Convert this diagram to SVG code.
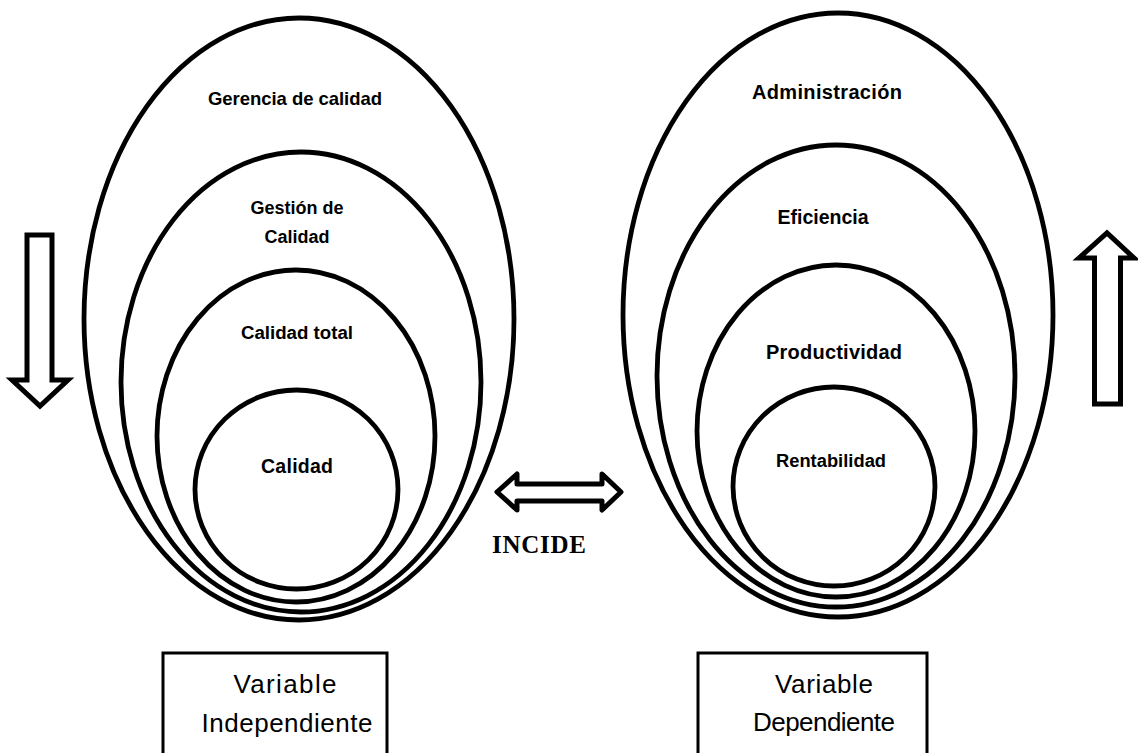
<svg xmlns="http://www.w3.org/2000/svg" width="1138" height="753" viewBox="0 0 1138 753">
<style>
.e{fill:none;stroke:#000;stroke-width:4.8}
.lbl{font-family:"Liberation Sans",Arial,sans-serif;font-weight:bold;fill:#000;text-anchor:middle}
.box{fill:#fff;stroke:#000;stroke-width:3}
.btxt{font-family:"Liberation Sans",Arial,sans-serif;font-size:26px;fill:#000;text-anchor:middle}
.arr{fill:#fff;stroke:#000;stroke-width:5}
</style>
<rect width="1138" height="753" fill="#fff"/>
<g id="left-group">
  <g id="gerencia"><ellipse class="e" cx="299" cy="319" rx="215" ry="301"/><text class="lbl" x="295" y="105" font-size="18.5" textLength="174">Gerencia de calidad</text></g>
  <g id="gestion"><ellipse class="e" cx="301" cy="382" rx="180" ry="230"/><text class="lbl" x="297" y="214" font-size="18" textLength="93">Gestión de</text><text class="lbl" x="297" y="243" font-size="18" textLength="65">Calidad</text></g>
  <g id="calidad-total"><ellipse class="e" cx="296" cy="436" rx="139" ry="166"/><text class="lbl" x="297" y="339" font-size="18.7" textLength="112">Calidad total</text></g>
  <g id="calidad"><ellipse class="e" cx="296.5" cy="489.5" rx="101.5" ry="99.5"/><text class="lbl" x="297" y="473" font-size="19.5" textLength="72">Calidad</text></g>
</g>
<g id="right-group">
  <g id="administracion"><ellipse class="e" cx="838" cy="315" rx="215" ry="302"/><text class="lbl" x="827" y="99" font-size="20" textLength="150">Administración</text></g>
  <g id="eficiencia"><ellipse class="e" cx="836" cy="376" rx="179" ry="231"/><text class="lbl" x="823" y="224" font-size="19.5" textLength="91">Eficiencia</text></g>
  <g id="productividad"><ellipse class="e" cx="836" cy="431" rx="139" ry="166"/><text class="lbl" x="834" y="359" font-size="20" textLength="136">Productividad</text></g>
  <g id="rentabilidad"><ellipse class="e" cx="834" cy="486.5" rx="101" ry="99.5"/><text class="lbl" x="831" y="467" font-size="18.3" textLength="110">Rentabilidad</text></g>
</g>
<g id="box-independiente">
  <rect class="box" x="163" y="653" width="224" height="110"/>
  <text class="btxt" x="285" y="693" textLength="103">Variable</text>
  <text class="btxt" x="287" y="732" textLength="171">Independiente</text>
</g>
<g id="box-dependiente">
  <rect class="box" x="698" y="653" width="229" height="110"/>
  <text class="btxt" x="824" y="693" textLength="98">Variable</text>
  <text class="btxt" x="824" y="731" textLength="142">Dependiente</text>
</g>
<g id="connectors">
  <polygon id="arrow-down" class="arr" stroke-linejoin="miter" points="27,235 52,235 52,380 68,380 40,406 12,380 27,380"/>
  <polygon id="arrow-up" class="arr" stroke-linejoin="miter" points="1094.5,404 1120.5,404 1120.5,258 1134,258 1107,233 1079,258 1094.5,258"/>
  <polygon id="arrow-incide" class="arr" stroke-linejoin="round" points="497,492 517,474 517,484 602,484 602,474 621,492 602,510 602,501 517,501 517,510"/>
</g>
<text x="539" y="553" font-family="'Liberation Serif','Times New Roman',serif" font-weight="bold" font-size="25" text-anchor="middle" textLength="94">INCIDE</text>
</svg>
